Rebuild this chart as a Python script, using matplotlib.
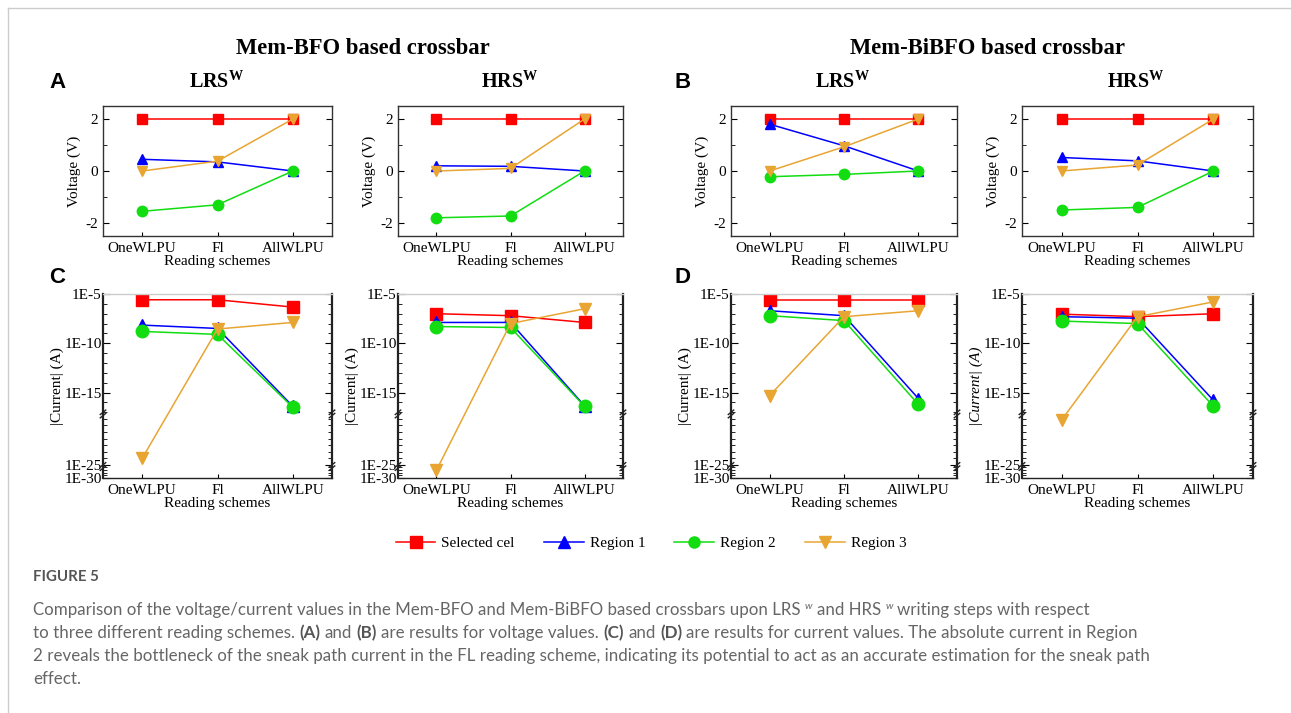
import numpy as np
import matplotlib
matplotlib.use("Agg")
import matplotlib.pyplot as plt
from matplotlib.lines import Line2D
from matplotlib.ticker import FixedLocator, MultipleLocator

plt.rcParams['font.family'] = ['Liberation Serif', 'DejaVu Serif']
plt.rcParams['mathtext.fontset'] = 'custom'
plt.rcParams['mathtext.rm'] = 'Liberation Serif'
plt.rcParams['mathtext.bf'] = 'Liberation Serif:bold'
plt.rcParams['mathtext.it'] = 'Liberation Serif:italic'

schemes = ["OneWLPU", "Fl", "AllWLPU"]
series = ["Selected cel", "Region 1", "Region 2", "Region 3"]
colors = ["#ff0000", "#0000ff", "#11dd11", "#e8a532"]
markers = ["s", "^", "o", "v"]

# voltage (V): selected, region 1, region 2, region 3
volt_bfo_lrs = [[2, 2, 2], [0.45, 0.35, 0.0], [-1.55, -1.3, 0.0], [0.0, 0.38, 2.0]]
volt_bfo_hrs = [[2, 2, 2], [0.2, 0.18, 0.0], [-1.8, -1.73, 0.0], [0.0, 0.1, 2.0]]
volt_bibfo_lrs = [[2, 2, 2], [1.8, 0.97, 0.0], [-0.22, -0.13, 0.0], [0.0, 0.93, 2.0]]
volt_bibfo_hrs = [[2, 2, 2], [0.52, 0.39, 0.0], [-1.5, -1.4, 0.0], [0.0, 0.23, 2.0]]

# |current| (A)
cur_bfo_lrs = [[2.6e-6, 2.6e-6, 4.7e-7], [7e-9, 3.2e-9, 4e-17],
               [1.6e-9, 8e-10, 3.2e-17], [1e-24, 2.8e-9, 1.3e-8]]
cur_bfo_hrs = [[1e-7, 6.3e-8, 1.3e-8], [1.3e-8, 1.3e-8, 4.5e-17],
               [5e-9, 4e-9, 4e-17], [1e-27, 1e-8, 3.2e-7]]
cur_bibfo_lrs = [[2.6e-6, 2.6e-6, 2.6e-6], [2e-7, 6.3e-8, 2.5e-16],
                 [6.3e-8, 2e-8, 6.3e-17], [5e-16, 5e-8, 2e-7]]
cur_bibfo_hrs = [[9e-8, 5e-8, 1e-7], [5e-8, 3.5e-8, 1.6e-16],
                 [1.8e-8, 1e-8, 4e-17], [6.3e-19, 5e-8, 1.6e-6]]

cur_ticks = [1e-5, 1e-10, 1e-15, 1e-25, 1e-30]
cur_ticklabels = ["1E-5", "1E-10", "1E-15", "1E-25", "1E-30"]


# broken log axis: three linear pieces in log10
def fwd(y):
    L = np.log10(np.clip(y, 1e-300, None))
    return np.where(L >= -17, (L + 5) * 9.75,
                    np.where(L >= -25, -117 + (L + 17) * 6.5, -169 + (L + 25) * 2.6))


def inv(p):
    L = np.where(p >= -117, p / 9.75 - 5,
                 np.where(p >= -169, (p + 117) / 6.5 - 17, (p + 169) / 2.6 - 25))
    return 10.0 ** L


W, H = 1291, 713
fig = plt.figure(figsize=(W / 100, H / 100), dpi=100)

cols = [(103, 332), (398, 623), (731, 957), (1022, 1253)]


def make_ax(x0, x1, ytop, ybot):
    return fig.add_axes([x0 / W, 1 - ybot / H, (x1 - x0) / W, (ybot - ytop) / H])


def style_common(ax):
    ax.set_xlim(-0.52, 2.52)
    ax.set_xticks(range(3))
    ax.set_xticklabels(schemes, fontsize=11)
    ax.tick_params(axis='x', direction='in', length=3, pad=4)
    ax.tick_params(axis='y', which='both', direction='in', left=True, right=True, labelsize=11)
    ax.set_xlabel("Reading schemes", fontsize=11, labelpad=0)


volt_sets = [volt_bfo_lrs, volt_bfo_hrs, volt_bibfo_lrs, volt_bibfo_hrs]
cur_sets = [cur_bfo_lrs, cur_bfo_hrs, cur_bibfo_lrs, cur_bibfo_hrs]

for i, (x0, x1) in enumerate(cols):
    ax = make_ax(x0, x1, 106, 236)
    for vals, c, m in zip(volt_sets[i], colors, markers):
        ax.plot(range(3), vals, color=c, marker=m, ms=7.5, lw=1.1)
    ax.set_ylim(-2.5, 2.5)
    ax.set_yticks([-2, 0, 2])
    ax.set_yticklabels(["-2", "0", "2"])
    ax.yaxis.set_minor_locator(MultipleLocator(1))
    ax.tick_params(axis='y', which='major', length=4)
    ax.tick_params(axis='y', which='minor', length=3)
    style_common(ax)
    ax.set_ylabel("Voltage (V)", fontsize=11, labelpad=3)
    for s in ax.spines.values():
        s.set_color("#333333")
        s.set_linewidth(1.0)

    ax = make_ax(x0, x1, 294, 478)
    ax.set_yscale('function', functions=(fwd, inv))
    for vals, c, m in zip(cur_sets[i], colors, markers):
        ax.plot(range(3), vals, color=c, marker=m, ms=9, lw=1.1)
    ax.set_ylim(1e-30, 1e-5)
    ax.yaxis.set_major_locator(FixedLocator(cur_ticks))
    ax.set_yticklabels(cur_ticklabels)
    minors = [10.0 ** k for k in range(-30, -4) if 10.0 ** k not in cur_ticks]
    ax.yaxis.set_minor_locator(FixedLocator(minors))
    ax.tick_params(axis='y', which='major', length=5, pad=1)
    ax.tick_params(axis='y', which='minor', length=3)
    style_common(ax)
    ax.set_ylabel("|Current| (A)", fontsize=11, labelpad=0,
                  style='italic' if i == 3 else 'normal')
    for name, s in ax.spines.items():
        s.set_color("#222222")
        s.set_linewidth(1.6 if name in ("left", "right") else 1.0)
    ax.spines['top'].set_color("#cccccc")
    # break marks on both vertical spines
    for yb in (1e-17, 1e-25):
        fy = (fwd(yb) + 182) / 182.0
        for xs in (0.0, 1.0):
            ax.plot([xs - 0.012, xs + 0.012], [fy - 0.012, fy + 0.012],
                    transform=ax.transAxes, color="#222222", lw=1.0, clip_on=False)
            ax.plot([xs - 0.012, xs + 0.012], [fy - 0.03, fy - 0.006],
                    transform=ax.transAxes, color="#222222", lw=1.0, clip_on=False)

# titles
fig.text(363 / W, 1 - 48 / H, "Mem-BFO based crossbar", ha='center', va='center',
         fontsize=16.3, fontweight='bold')
fig.text(988 / W, 1 - 48 / H, "Mem-BiBFO based crossbar", ha='center', va='center',
         fontsize=16.3, fontweight='bold')
for xc, lab in zip([217, 510, 843, 1136], ["LRS", "HRS", "LRS", "HRS"]):
    fig.text(xc / W, 1 - 82 / H, r"$\mathbf{%s^{W}}$" % lab, ha='center', va='center',
             fontsize=14.5)
for (xc, yc), lab in zip([(57, 83), (683, 83), (57, 278), (683, 278)], "ABCD"):
    fig.text(xc / W, 1 - yc / H, lab, ha='center', va='center', fontsize=16,
             fontweight='bold', family='Liberation Sans')

# legend
handles = [Line2D([], [], color=c, marker=m, ms=8, lw=1.1) for c, m in zip(colors, markers)]
fig.legend(handles, series, loc='center', bbox_to_anchor=(651 / W, 1 - 543 / H), ncol=4,
           frameon=False, fontsize=11, handlelength=2.6, handletextpad=0.4,
           columnspacing=1.9)

# outer frame
fig.add_artist(Line2D([8 / W, 1], [1 - 8 / H, 1 - 8 / H], color="#cccccc", lw=1))
fig.add_artist(Line2D([8 / W, 8 / W], [0, 1 - 8 / H], color="#cccccc", lw=1))

# caption
renderer = fig.canvas.get_renderer()
cap_kw = dict(family=['Lato', 'DejaVu Sans'], color="#666666", fontsize=12.2, va='baseline')


def draw_runs(x, y, runs):
    sp = fig.text(0, 0, "a a", **cap_kw)
    sp2 = fig.text(0, 0, "aa", **cap_kw)
    space = sp.get_window_extent(renderer).width - sp2.get_window_extent(renderer).width
    sp.remove()
    sp2.remove()
    for txt, kind in runs:
        kw = dict(cap_kw)
        yy = y
        if kind == 'b':
            kw['fontweight'] = 'bold'
            kw['color'] = "#555555"
        if kind == 's':
            kw['fontsize'] = 7.5
            kw['style'] = 'italic'
            yy = y - 6
        body = txt.strip(' ')
        if txt.startswith(' '):
            x += space
        t = fig.text(x / W, 1 - yy / H, body, **kw)
        x += t.get_window_extent(renderer).width
        if txt.endswith(' '):
            x += space


fig.text(33 / W, 1 - 581 / H, "FIGURE 5", fontsize=10.8, color="#555555", va='baseline',
         family=['Lato', 'DejaVu Sans'], fontweight='bold')
draw_runs(33, 615, [("Comparison of the voltage/current values in the Mem-BFO and Mem-BiBFO "
                     "based crossbars upon LRS ", 'n'), ("w", 's'), (" and HRS ", 'n'),
                    ("w", 's'), (" writing steps with respect", 'n')])
draw_runs(33, 638, [("to three different reading schemes. ", 'n'), ("(A)", 'b'), (" and ", 'n'),
                    ("(B)", 'b'), (" are results for voltage values. ", 'n'), ("(C)", 'b'),
                    (" and ", 'n'), ("(D)", 'b'),
                    (" are results for current values. The absolute current in Region", 'n')])
draw_runs(33, 661, [("2 reveals the bottleneck of the sneak path current in the FL reading scheme, "
                     "indicating its potential to act as an accurate estimation for the sneak path",
                     'n')])
draw_runs(33, 684, [("effect.", 'n')])

fig.savefig("out.png", dpi=100)
